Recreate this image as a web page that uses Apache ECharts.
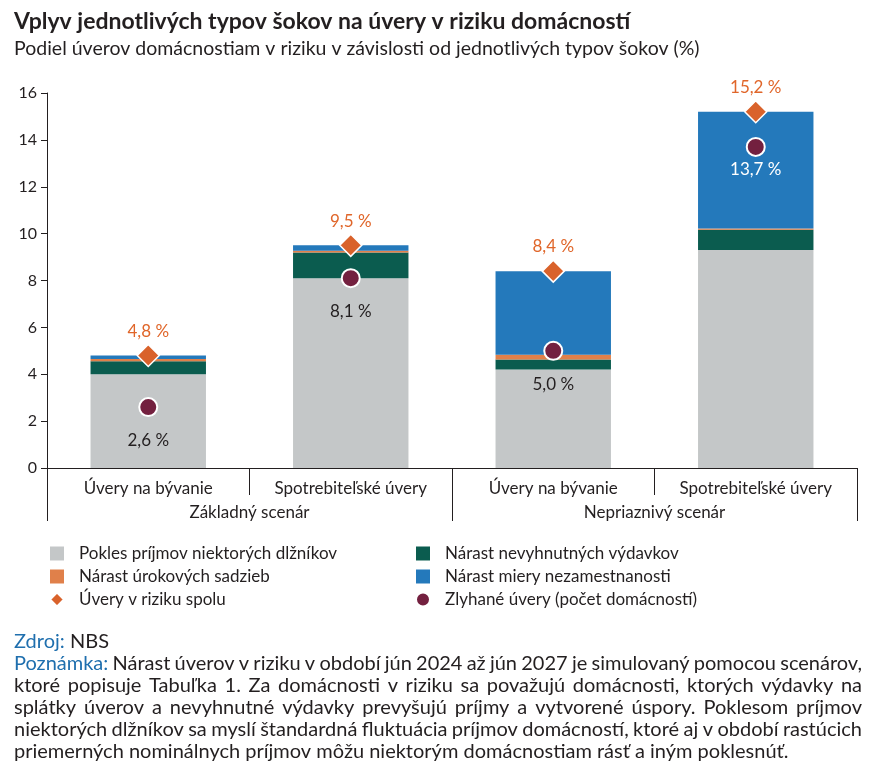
<!DOCTYPE html>
<html><head><meta charset="utf-8">
<script src="https://cdn.jsdelivr.net/npm/echarts@6/dist/echarts.min.js"></script>
<style>html,body{margin:0;padding:0;background:#fff}#c{width:881px;height:782px}</style>
</head><body><div id="c"></div>
<script>
const categories = ['Úvery na bývanie', 'Spotrebiteľské úvery', 'Úvery na bývanie', 'Spotrebiteľské úvery'];
const scenarios = ['Základný scenár', 'Nepriaznivý scenár'];
const incomeDrop = [4.0, 8.1, 4.2, 9.3];
const expensesRise = [0.55, 1.1, 0.43, 0.87];
const rateRise = [0.1, 0.07, 0.2, 0.05];
const unemploymentRise = [0.15, 0.23, 3.57, 4.98];
const totalAtRisk = [4.8, 9.5, 8.4, 15.2];
const defaulted = [2.6, 8.1, 5.0, 13.7];
const yTicks = [0, 2, 4, 6, 8, 10, 12, 14, 16];
const noteLines = [
  'Nárast úverov v riziku v období jún 2024 až jún 2027 je simulovaný pomocou scenárov,',
  'ktoré popisuje Tabuľka 1. Za domácnosti v riziku sa považujú domácnosti, ktorých výdavky na',
  'splátky úverov a nevyhnutné výdavky prevyšujú príjmy a vytvorené úspory. Poklesom príjmov',
  'niektorých dlžníkov sa myslí štandardná fluktuácia príjmov domácností, ktoré aj v období rastúcich',
  'priemerných nominálnych príjmov môžu niektorým domácnostiam rásť a iným poklesnúť.'
];

const FONT = 'Lato';
const TXT = '#231f20';
const BLUE_TXT = '#1f6fae';
const fmt = v => v.toFixed(1).replace('.', ',') + ' %';
const names = {
  gray: 'Pokles príjmov niektorých dlžníkov',
  green: 'Nárast nevyhnutných výdavkov',
  orange: 'Nárast úrokových sadzieb',
  blue: 'Nárast miery nezamestnanosti',
  dia: 'Úvery v riziku spolu',
  dot: 'Zlyhané úvery (počet domácností)'
};

// justified note text
const NOTE_FS = 20, NOTE_LEFT = 14, NOTE_RIGHT = 862, NOTE_TOP = 642, NOTE_LH = 22;
const cv = document.createElement('canvas').getContext('2d');
cv.font = NOTE_FS + 'px ' + FONT;
const mw = s => cv.measureText(s).width;
const noteGraphics = [];
const addText = (txt, x, yc, color) => noteGraphics.push({
  type: 'text', x, y: yc,
  style: { text: txt, font: NOTE_FS + 'px ' + FONT, fill: color, textVerticalAlign: 'middle', textAlign: 'left' }
});
addText('Zdroj:', NOTE_LEFT, NOTE_TOP, BLUE_TXT);
addText('NBS', NOTE_LEFT + mw('Zdroj: '), NOTE_TOP, TXT);
noteLines.forEach((line, i) => {
  const yc = NOTE_TOP + NOTE_LH * (i + 1);
  const words = line.split(' ').map(w => ({ t: w, c: TXT }));
  if (i === 0) words.unshift({ t: 'Poznámka:', c: BLUE_TXT });
  const last = i === noteLines.length - 1;
  const total = words.reduce((s, w) => s + mw(w.t), 0);
  const gap = last ? mw(' ') : (NOTE_RIGHT - NOTE_LEFT - total) / (words.length - 1);
  let x = NOTE_LEFT;
  words.forEach(w => { addText(w.t, x, yc, w.c); x += mw(w.t) + gap; });
});

const chart = echarts.init(document.getElementById('c'));
const mkBar = (name, data, color) => ({
  name, type: 'bar', stack: 'a', data, barWidth: '57%',
  itemStyle: { color }, emphasis: { disabled: true }
});
const legendText = { fontSize: 17, color: TXT, fontFamily: FONT, padding: [0, 0, 0, 10], lineHeight: 16 };
chart.setOption({
  animation: false,
  textStyle: { fontFamily: FONT },
  title: [{
    text: 'Vplyv jednotlivých typov šokov na úvery v riziku domácností',
    left: 9, top: 5,
    textStyle: { fontFamily: FONT, fontSize: 23, fontWeight: 'bold', color: TXT }
  }, {
    text: 'Podiel úverov domácnostiam v riziku v závislosti od jednotlivých typov šokov (%)',
    left: 9, top: 34,
    textStyle: { fontFamily: FONT, fontSize: 19.5, fontWeight: 'normal', color: TXT }
  }],
  grid: { left: 47, right: 24, top: 93, bottom: 314, containLabel: false },
  xAxis: [{
    type: 'category', data: categories, position: 'bottom',
    axisLine: { lineStyle: { color: TXT, width: 1 } },
    axisTick: { show: true, interval: 0, length: 27, lineStyle: { color: TXT } },
    axisLabel: { interval: 0, margin: 12, fontSize: 17, color: TXT, fontFamily: FONT }
  }, {
    type: 'category', data: scenarios, position: 'bottom',
    axisLine: { show: false },
    axisTick: { show: true, interval: 0, length: 53, lineStyle: { color: TXT } },
    axisLabel: { interval: 0, margin: 36, fontSize: 17, color: TXT, fontFamily: FONT }
  }],
  yAxis: {
    type: 'value', min: yTicks[0], max: yTicks[yTicks.length - 1], interval: 2,
    axisLine: { show: true, lineStyle: { color: TXT } },
    axisTick: { show: true, length: 6, lineStyle: { color: TXT } },
    splitLine: { show: false },
    axisLabel: { fontSize: 16, color: TXT, margin: 10, fontFamily: FONT }
  },
  legend: [{
    orient: 'vertical', left: 44, top: 540, itemGap: 6, itemWidth: 14, itemHeight: 14,
    textStyle: legendText,
    data: [{ name: names.gray, icon: 'rect' }, { name: names.orange, icon: 'rect' }, { name: names.dia, icon: 'diamond' }]
  }, {
    orient: 'vertical', left: 410, top: 540, itemGap: 6, itemWidth: 14, itemHeight: 14,
    textStyle: legendText,
    data: [{ name: names.green, icon: 'rect' }, { name: names.blue, icon: 'rect' }, { name: names.dot, icon: 'circle' }]
  }],
  series: [
    mkBar(names.gray, incomeDrop, '#c4c7c8'),
    mkBar(names.green, expensesRise, '#0b5c4f'),
    mkBar(names.orange, rateRise, '#e0804a'),
    mkBar(names.blue, unemploymentRise, '#2479bb'),
    {
      name: names.dot, type: 'scatter', symbol: 'circle', symbolSize: 18, z: 5,
      itemStyle: { color: '#73203f', borderColor: '#fff', borderWidth: 2, opacity: 1 },
      emphasis: { disabled: true },
      data: defaulted.map((v, i) => ({
        value: v,
        label: i === 3 ? { distance: 4, color: '#fff' } : {}
      })),
      label: {
        show: true, position: 'bottom', distance: 15, fontSize: 17, color: TXT, fontFamily: FONT,
        formatter: p => fmt(p.value)
      }
    },
    {
      name: names.dia, type: 'scatter', symbol: 'diamond', symbolSize: [22, 22], z: 6,
      itemStyle: { color: '#d9622b', borderColor: '#fff', borderWidth: 1.5, opacity: 1 },
      emphasis: { disabled: true },
      data: totalAtRisk,
      label: {
        show: true, position: 'top', distance: 4, fontSize: 17, color: '#e0662a', fontFamily: FONT,
        formatter: p => fmt(p.value)
      }
    }
  ],
  graphic: noteGraphics
});
</script></body></html>
